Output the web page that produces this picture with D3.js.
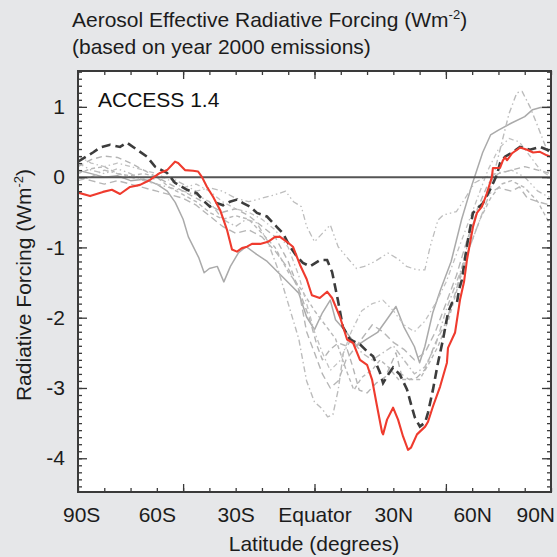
<!DOCTYPE html>
<html>
<head>
<meta charset="utf-8">
<script src="https://cdn.jsdelivr.net/npm/d3@7"></script>
<style>
  html, body { margin: 0; padding: 0; background: #e6e7e9; }
  svg { display: block; font-family: "Liberation Sans", Arial, Helvetica, sans-serif; }
</style>
</head>
<body>
<svg id="chart" width="557" height="557"></svg>
<script>
// ---- data -------------------------------------------------------------
const latLabelValues = [-90, -60, -30, 0, 30, 60, 90];
const latLabels = ["90S", "60S", "30S", "Equator", "30N", "60N", "90N"];
const yTickValues = [1, 0, -1, -2, -3, -4];

// ACCESS 1.4 zonal-mean aerosol ERF, [latitude, W m-2]
const accessRf = [[-90,-0.22],[-85.4,-0.27],[-80.5,-0.21],[-77.1,-0.18],[-74,-0.24],[-70.2,-0.14],[-66.4,-0.11],[-62.6,-0.04],[-58.8,0.06],[-56.1,0.10],[-53.1,0.22],[-51.9,0.20],[-49.3,0.10],[-46.2,0.09],[-44.3,0.08],[-42.8,0.0],[-40.9,-0.14],[-38.6,-0.28],[-35.9,-0.47],[-33.3,-0.75],[-31.4,-1.03],[-29.5,-1.06],[-27.6,-1.01],[-25.7,-0.99],[-23.8,-0.95],[-20.7,-0.95],[-17.7,-0.92],[-15,-0.85],[-13.1,-0.85],[-10.5,-0.92],[-8.2,-0.99],[-5.5,-1.25],[-3,-1.45],[-1,-1.68],[2,-1.72],[4.8,-1.63],[6.7,-1.72],[9.7,-1.99],[12.4,-2.31],[14.7,-2.36],[17.3,-2.6],[20,-2.67],[21.9,-2.88],[23.8,-3.26],[25.7,-3.63],[26.1,-3.66],[27.6,-3.45],[29.9,-3.28],[31.8,-3.45],[33.7,-3.69],[35.6,-3.88],[36.7,-3.85],[39,-3.66],[42.1,-3.55],[43.2,-3.48],[45.1,-3.26],[47.8,-2.98],[50.4,-2.64],[50.8,-2.43],[53.5,-2.21],[55.4,-1.74],[56.9,-1.49],[58,-1.18],[60.3,-0.71],[61.8,-0.51],[63.7,-0.42],[65.6,-0.23],[67.5,0.0],[67.9,0.13],[70.6,0.13],[71.7,0.24],[72.5,0.28],[73.3,0.24],[75.2,0.34],[78.2,0.42],[80.9,0.39],[83.2,0.35],[85.8,0.36],[88.4,0.31],[90,0.29]];

// Multi-model mean
const meanRf = [[-90,0.22],[-84.3,0.35],[-81.6,0.42],[-77.8,0.46],[-74,0.43],[-71.4,0.49],[-67.5,0.39],[-63.7,0.29],[-60.7,0.15],[-56.1,0.06],[-53.1,-0.08],[-48.5,-0.18],[-44.7,-0.23],[-42.4,-0.33],[-39.8,-0.42],[-37.1,-0.37],[-34.8,-0.40],[-32.2,-0.35],[-29.5,-0.32],[-27.2,-0.37],[-24.5,-0.42],[-21.9,-0.51],[-18.1,-0.56],[-14.3,-0.71],[-12,-0.80],[-9.3,-0.99],[-6.7,-1.13],[-4.4,-1.22],[-1.7,-1.27],[2.1,-1.18],[4.8,-1.18],[6.7,-1.35],[7.8,-1.55],[8.9,-1.75],[10.8,-2.13],[13.5,-2.31],[17.3,-2.38],[20,-2.48],[22.3,-2.55],[24.9,-2.78],[26.1,-2.93],[28,-2.81],[29.9,-2.71],[32.5,-2.81],[35.2,-3.02],[37.1,-3.28],[38.2,-3.42],[40.1,-3.55],[42.1,-3.49],[43.2,-3.35],[45.1,-3.02],[47,-2.64],[48.9,-2.31],[50.8,-1.93],[52.3,-1.79],[54.2,-1.79],[55,-1.60],[56.1,-1.46],[57.2,-1.18],[58.4,-0.89],[60.3,-0.51],[64.1,-0.37],[66.8,-0.18],[69.4,0.03],[70.6,0.2],[72.5,0.29],[75.2,0.35],[78.2,0.43],[82,0.39],[85.8,0.43],[88.5,0.39],[90,0.35]];

// Other models
const modelA = [[-90,0.1],[-85,0.05],[-80,0.0],[-75,0.02],[-70,-0.05],[-65,-0.03],[-60,-0.1],[-56,-0.2],[-53,-0.36],[-50,-0.6],[-48,-0.85],[-46,-1.0],[-44,-1.15],[-42,-1.36],[-40,-1.3],[-37,-1.27],[-34.5,-1.49],[-32,-1.27],[-29,-1.08],[-26,-0.99],[-22,-1.1],[-18,-1.2],[-14,-1.35],[-10,-1.5],[-6,-1.65],[-3,-1.99],[0,-2.17],[3,-1.93],[6,-1.75],[8,-2.03],[12,-2.2],[16,-2.4],[20,-2.3],[24,-2.21],[28,-2.0],[31,-1.84],[34,-2.13],[38,-2.41],[40,-2.64],[42,-2.41],[45,-1.93],[48,-1.6],[52,-1.2],[56,-0.6],[60,-0.1],[64,0.35],[67,0.6],[70,0.67],[75,0.77],[80,0.86],[83,0.96],[86,0.99],[90,0.99]];
const modelB = [[-90,0.15],[-85,0.25],[-80,0.3],[-75,0.28],[-70,0.2],[-65,0.1],[-60,0.0],[-55,-0.1],[-50,-0.2],[-45,-0.3],[-40,-0.4],[-35,-0.5],[-30,-0.45],[-25,-0.55],[-20,-0.7],[-15,-0.85],[-10,-1.2],[-5,-1.7],[-2,-2.0],[1,-2.4],[3,-2.6],[6,-2.45],[9,-2.36],[12,-2.4],[14.5,-2.69],[17,-3.03],[20,-3.07],[23.5,-2.93],[27,-2.84],[31,-2.5],[33,-2.8],[36,-2.88],[39,-2.85],[42,-2.74],[46,-2.36],[50,-2.07],[54,-1.6],[58,-1.0],[62,-0.45],[66,-0.1],[70,0.05],[75,0.1],[80,0.15],[85,0.1],[90,0.05]];
const modelC = [[-90,0.05],[-85,0.12],[-80,0.15],[-75,0.05],[-70,0.02],[-65,0.05],[-60,0.0],[-55,-0.15],[-50,-0.25],[-45,-0.35],[-40,-0.5],[-35,-0.6],[-30,-0.55],[-25,-0.6],[-20,-0.8],[-15,-1.0],[-10,-1.35],[-5,-1.6],[0,-1.9],[4,-2.1],[8,-2.3],[12,-2.74],[15,-3.03],[18,-2.85],[22,-2.74],[25,-2.6],[28,-2.7],[32,-2.88],[36,-2.88],[40,-2.88],[43,-2.69],[47,-2.41],[51,-2.03],[55,-1.5],[59,-1.0],[63,-0.6],[67,-0.3],[71,-0.1],[75,-0.05],[80,-0.15],[85,-0.35],[90,-0.7]];
const modelD = [[-90,-0.05],[-85,0.0],[-80,0.1],[-75,0.05],[-70,0.0],[-65,-0.05],[-60,-0.1],[-55,-0.15],[-50,-0.2],[-45,-0.25],[-40,-0.35],[-35,-0.6],[-30,-0.7],[-26,-0.6],[-22,-0.65],[-18,-0.9],[-14,-1.3],[-10,-1.8],[-6,-2.3],[-3,-2.9],[0,-3.2],[3,-3.3],[5,-3.41],[7,-3.38],[9,-3.03],[11,-2.5],[14,-2.3],[18,-2.5],[22,-2.6],[26,-2.5],[30,-2.4],[34,-2.6],[38,-2.8],[42,-2.7],[46,-2.4],[50,-1.9],[54,-1.5],[58,-1.1],[62,-0.7],[66,-0.3],[70,0.3],[74,0.9],[77,1.2],[79,1.22],[82,1.0],[85,0.72],[88,0.43],[90,0.35]];
const modelE = [[-90,0.2],[-85,0.1],[-80,0.05],[-75,0.12],[-70,0.05],[-65,-0.05],[-60,-0.02],[-55,0.0],[-50,-0.1],[-45,-0.2],[-40,-0.15],[-35,-0.2],[-30,-0.3],[-25,-0.35],[-20,-0.3],[-15,-0.25],[-11,-0.2],[-8,-0.35],[-5,-0.42],[-3,-0.7],[0,-0.92],[3,-0.8],[6,-0.68],[9,-0.99],[13,-1.17],[16,-1.3],[19,-1.27],[23,-1.2],[28,-1.08],[32,-1.17],[35,-1.27],[39,-1.32],[42,-1.32],[44,-0.99],[47,-0.61],[49,-0.54],[54,-0.49],[57,-0.32],[61,-0.08],[65,0.0],[70,0.06],[75,0.1],[80,0.0],[85,-0.2],[90,-0.3]];
const modelF = [[-90,0.0],[-85,-0.05],[-80,-0.1],[-75,-0.05],[-70,-0.1],[-65,-0.15],[-60,-0.2],[-55,-0.25],[-50,-0.3],[-45,-0.4],[-40,-0.55],[-35,-0.7],[-30,-0.8],[-25,-0.75],[-20,-0.85],[-15,-1.05],[-10,-1.3],[-6,-1.6],[-3,-2.2],[0,-2.5],[3,-2.8],[6,-3.0],[9,-2.9],[12,-2.6],[15,-2.45],[18,-2.3],[22,-2.1],[26,-2.2],[30,-2.35],[34,-2.45],[38,-2.6],[42,-2.5],[46,-2.2],[50,-1.8],[54,-1.4],[58,-0.9],[62,-0.5],[66,-0.25],[70,-0.15],[75,-0.2],[78,-0.14],[81,-0.3],[85,-0.35],[90,-0.4]];
const modelG = [[-90,0.3],[-85,0.2],[-80,0.15],[-75,0.2],[-70,0.15],[-65,0.1],[-60,0.05],[-55,-0.05],[-50,-0.15],[-45,-0.1],[-40,-0.2],[-35,-0.35],[-30,-0.45],[-25,-0.5],[-20,-0.6],[-15,-0.75],[-10,-1.0],[-6,-1.4],[-3,-1.8],[0,-2.2],[3,-2.5],[6,-2.75],[10,-2.6],[14,-2.2],[18,-1.9],[22,-1.8],[26,-1.75],[30,-1.9],[34,-2.1],[38,-2.2],[42,-2.05],[46,-1.8],[50,-1.5],[54,-1.1],[58,-0.7],[62,-0.3],[66,0.1],[70,0.4],[74,0.55],[78,0.5],[82,0.3],[86,0.1],[90,0.0]];

const otherModels = [
  { values: modelA, color: "#aaaaaa", width: 1.5, dash: null },
  { values: modelB, color: "#b4b4b4", width: 1.4, dash: "6,4" },
  { values: modelC, color: "#b8b8b8", width: 1.4, dash: "4,3" },
  { values: modelD, color: "#bcbcbc", width: 1.4, dash: "6,3,1.5,3" },
  { values: modelE, color: "#bdbdbd", width: 1.3, dash: "6,3,1.5,3,1.5,3" },
  { values: modelF, color: "#b6b6b6", width: 1.4, dash: "7,4" },
  { values: modelG, color: "#c2c2c2", width: 1.3, dash: "5,3,1.5,3" }
];

// ---- layout -----------------------------------------------------------
const svg = d3.select("#chart");
const plot = { left: 78, right: 551, top: 71, bottom: 492 };
const x = d3.scaleLinear().domain([-90, 90]).range([plot.left, plot.right]);
const y = d3.scaleLinear().domain([-4.48, 1.51]).range([plot.bottom, plot.top]);
const textColor = "#1c1c1c";
const fontSize = 21;

svg.append("rect")
  .attr("x", plot.left).attr("y", plot.top)
  .attr("width", plot.right - plot.left).attr("height", plot.bottom - plot.top)
  .attr("fill", "#ffffff");

svg.append("clipPath").attr("id", "plot-clip")
  .append("rect")
  .attr("x", plot.left).attr("y", plot.top)
  .attr("width", plot.right - plot.left).attr("height", plot.bottom - plot.top);

const line = d3.line().x(d => x(d[0])).y(d => y(d[1]));
const lines = svg.append("g").attr("clip-path", "url(#plot-clip)");

otherModels.forEach(m => {
  lines.append("path")
    .attr("d", line(m.values))
    .attr("fill", "none")
    .attr("stroke", m.color)
    .attr("stroke-width", m.width)
    .attr("stroke-dasharray", m.dash)
    .attr("stroke-linejoin", "round");
});

// zero line
lines.append("line")
  .attr("x1", x(-90)).attr("x2", x(90))
  .attr("y1", y(0)).attr("y2", y(0))
  .attr("stroke", "#555555").attr("stroke-width", 2);

lines.append("path")
  .attr("d", line(meanRf))
  .attr("fill", "none")
  .attr("stroke", "#3c3c3c")
  .attr("stroke-width", 2.6)
  .attr("stroke-dasharray", "9,5");

lines.append("path")
  .attr("d", line(accessRf))
  .attr("fill", "none")
  .attr("stroke", "#ef3b2e")
  .attr("stroke-width", 2.1)
  .attr("stroke-linejoin", "round");

// ---- axes & ticks -----------------------------------------------------
const axisColor = "#3a3a3a";
const yMinor = d3.range(-44, 16).map(d => d / 10).filter(d => d >= -4.48 && d <= 1.51);
const yMajor = yTickValues;
const xMinor = d3.range(-90, 91, 10);
const xMajor = [-50, 0, 50];

function styleAxis(g) {
  g.select(".domain").remove();
  g.selectAll("line").attr("stroke", axisColor).attr("stroke-width", 1.3);
}

svg.append("g").attr("transform", `translate(${plot.left},0)`)
  .call(d3.axisLeft(y).tickValues(yMinor).tickSize(-4).tickFormat(""))
  .call(styleAxis);
svg.append("g").attr("transform", `translate(${plot.right},0)`)
  .call(d3.axisRight(y).tickValues(yMinor).tickSize(-4).tickFormat(""))
  .call(styleAxis);
svg.append("g").attr("transform", `translate(${plot.right},0)`)
  .call(d3.axisRight(y).tickValues(yMajor).tickSize(-9).tickFormat(""))
  .call(styleAxis);

const yAxis = svg.append("g").attr("transform", `translate(${plot.left},0)`)
  .call(d3.axisLeft(y).tickValues(yMajor).tickSize(-9).tickPadding(13).tickFormat(d => String(d)))
  .call(styleAxis);
yAxis.selectAll("text")
  .attr("font-size", fontSize)
  .attr("font-family", "'Liberation Sans', Arial, Helvetica, sans-serif")
  .attr("fill", textColor);

svg.append("g").attr("transform", `translate(0,${plot.bottom})`)
  .call(d3.axisBottom(x).tickValues(xMinor).tickSize(-4).tickFormat(""))
  .call(styleAxis);
svg.append("g").attr("transform", `translate(0,${plot.bottom})`)
  .call(d3.axisBottom(x).tickValues(xMajor).tickSize(-8).tickFormat(""))
  .call(styleAxis);
svg.append("g").attr("transform", `translate(0,${plot.top})`)
  .call(d3.axisTop(x).tickValues(xMinor).tickSize(-4).tickFormat(""))
  .call(styleAxis);
svg.append("g").attr("transform", `translate(0,${plot.top})`)
  .call(d3.axisTop(x).tickValues(xMajor).tickSize(-8).tickFormat(""))
  .call(styleAxis);

// latitude labels
const xLabelAxis = svg.append("g").attr("transform", `translate(0,${plot.bottom})`)
  .call(d3.axisBottom(x).tickValues(latLabelValues).tickSize(0).tickPadding(15)
    .tickFormat((d, i) => latLabels[i]));
xLabelAxis.select(".domain").remove();
xLabelAxis.selectAll("text")
  .attr("font-size", fontSize)
  .attr("font-family", "'Liberation Sans', Arial, Helvetica, sans-serif")
  .attr("fill", textColor);
// keep the outermost labels inside the page
xLabelAxis.selectAll("text").each(function () {
  const bb = this.getBBox();
  const tick = this.parentNode;
  const tx = +tick.getAttribute("transform").match(/translate\(([-\d.]+)/)[1];
  const right = tx + bb.x + bb.width;
  const left = tx + bb.x;
  if (right > 555) d3.select(this).attr("x", 555 - right);
  else if (left < 63) d3.select(this).attr("x", 63 - left);
});

// plot frame
svg.append("rect")
  .attr("x", plot.left).attr("y", plot.top)
  .attr("width", plot.right - plot.left).attr("height", plot.bottom - plot.top)
  .attr("fill", "none").attr("stroke", axisColor).attr("stroke-width", 2);

// ---- text -------------------------------------------------------------
function withSup(sel, before, sup, after) {
  sel.append("tspan").text(before);
  sel.append("tspan").text(sup).attr("font-size", 13).attr("dy", -8);
  sel.append("tspan").text(after).attr("dy", 8);
}

svg.append("text").attr("x", 72).attr("y", 27)
  .attr("font-size", fontSize).attr("fill", textColor)
  .call(withSup, "Aerosol Effective Radiative Forcing (Wm", "-2", ")");
svg.append("text").attr("x", 72).attr("y", 54)
  .attr("font-size", fontSize).attr("fill", textColor)
  .text("(based on year 2000 emissions)");

svg.append("text")
  .attr("transform", "translate(31,285) rotate(-90)")
  .attr("text-anchor", "middle")
  .attr("font-size", fontSize).attr("fill", textColor)
  .call(withSup, "Radiative Forcing (Wm", "-2", ")");

svg.append("text").attr("x", 314).attr("y", 551)
  .attr("text-anchor", "middle")
  .attr("font-size", fontSize).attr("fill", textColor)
  .text("Latitude (degrees)");

svg.append("text").attr("x", 98).attr("y", 107)
  .attr("font-size", fontSize).attr("fill", "#111111")
  .text("ACCESS 1.4");
</script>
</body>
</html>
